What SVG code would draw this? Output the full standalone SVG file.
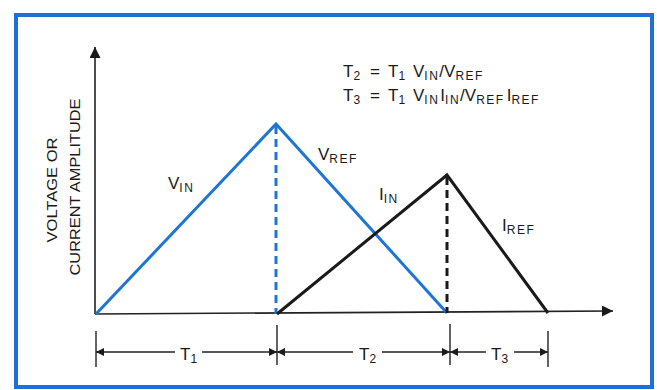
<svg xmlns="http://www.w3.org/2000/svg" width="657" height="390" viewBox="0 0 657 390">
<defs>
<style>
.t{font-family:"Liberation Sans",Arial,sans-serif;fill:#1a1a1a}
.lab{font-size:17px}
.sub{font-size:12px;letter-spacing:1.5px}
.ax{font-size:15px}
.blue{stroke:#1f74d8;stroke-width:3;fill:none;stroke-linejoin:miter}
.blk{stroke:#1a1a1a;stroke-width:3;fill:none;stroke-linejoin:miter}
.axis{stroke:#222;stroke-width:1.6;fill:none}
.dim{stroke:#222;stroke-width:1.4;fill:none}
</style>
<marker id="ah" viewBox="0 0 10 10" refX="10" refY="5" markerWidth="10" markerHeight="8" markerUnits="userSpaceOnUse" orient="auto"><path d="M0,0 L10,5 L0,10 z" fill="#1a1a1a"/></marker>
<marker id="ahBig" viewBox="0 0 10 10" refX="10" refY="5" markerWidth="16" markerHeight="11" markerUnits="userSpaceOnUse" orient="auto"><path d="M0,0 L10,5 L0,10 z" fill="#1a1a1a"/></marker>
</defs>
<rect x="0" y="0" width="657" height="390" fill="#ffffff"/>
<rect id="frame" x="16" y="15" width="636" height="372" fill="#ffffff" stroke="#1f6fd6" stroke-width="4"/>

<g id="connectors">
<line class="axis" x1="95" y1="314" x2="95" y2="47" marker-end="url(#ahBig)"/>
<line class="axis" x1="95" y1="314" x2="613" y2="311" marker-end="url(#ahBig)"/>
<polyline id="vin-vref" class="blue" points="96,314 276,124 447,313"/>
<line class="blue" x1="276" y1="126" x2="276" y2="314" stroke-width="2" stroke-dasharray="8,5"/>
<polyline id="iin-iref" class="blk" points="277,314 447,175 548,313"/>
<line class="blk" x1="447" y1="177" x2="447" y2="313" stroke-width="2" stroke-dasharray="8,5"/>
<g id="dimensions">
<line class="dim" x1="96" y1="331" x2="96" y2="367"/>
<line class="dim" x1="277" y1="325" x2="277" y2="365"/>
<line class="dim" x1="450" y1="324" x2="450" y2="365"/>
<line class="dim" x1="548" y1="331" x2="548" y2="367"/>
<line class="dim" x1="175" y1="352" x2="96" y2="352" marker-end="url(#ah)"/>
<line class="dim" x1="202" y1="352" x2="277" y2="352" marker-end="url(#ah)"/>
<line class="dim" x1="353" y1="352" x2="277" y2="352" marker-end="url(#ah)"/>
<line class="dim" x1="382" y1="352" x2="450" y2="352" marker-end="url(#ah)"/>
<line class="dim" x1="486" y1="352" x2="450" y2="352" marker-end="url(#ah)"/>
<line class="dim" x1="514" y1="352" x2="548" y2="352" marker-end="url(#ah)"/>
</g>
</g>

<g id="y-label">
<text class="t ax" transform="translate(57,190) rotate(-90)" text-anchor="middle" textLength="105" lengthAdjust="spacingAndGlyphs">VOLTAGE OR</text>
<text class="t ax" transform="translate(80,187) rotate(-90)" text-anchor="middle" textLength="177" lengthAdjust="spacingAndGlyphs">CURRENT AMPLITUDE</text>
</g>

<g id="equations">
<text class="t lab" y="77"><tspan x="343">T</tspan><tspan class="sub" dy="3">2</tspan><tspan x="370" dy="-3">=</tspan><tspan x="388">T</tspan><tspan class="sub" dy="3">1</tspan><tspan x="413" dy="-3">V</tspan><tspan class="sub" dy="3">IN</tspan><tspan dy="-3">/V</tspan><tspan class="sub" dy="3">REF</tspan></text>
<text class="t lab" y="101"><tspan x="343">T</tspan><tspan class="sub" dy="3">3</tspan><tspan x="370" dy="-3">=</tspan><tspan x="388">T</tspan><tspan class="sub" dy="3">1</tspan><tspan x="413" dy="-3">V</tspan><tspan class="sub" dy="3">IN</tspan><tspan dx="1" dy="-3">I</tspan><tspan class="sub" dy="3">IN</tspan><tspan dy="-3">/V</tspan><tspan class="sub" dy="3">REF</tspan><tspan dx="2" dy="-3">I</tspan><tspan class="sub" dy="3">REF</tspan></text>
</g>

<g id="label-vin"><text class="t lab" x="168" y="189">V<tspan class="sub" dy="3">IN</tspan></text></g>
<g id="label-vref"><text class="t lab" x="318" y="160">V<tspan class="sub" dy="3">REF</tspan></text></g>
<g id="label-iin"><text class="t lab" x="379" y="200">I<tspan class="sub" dy="3">IN</tspan></text></g>
<g id="label-iref"><text class="t lab" x="502" y="231">I<tspan class="sub" dy="3">REF</tspan></text></g>

<g id="label-t1"><text class="t lab" x="180" y="360">T<tspan class="sub" dy="3">1</tspan></text></g>
<g id="label-t2"><text class="t lab" x="359" y="360">T<tspan class="sub" dy="3">2</tspan></text></g>
<g id="label-t3"><text class="t lab" x="491" y="360">T<tspan class="sub" dy="3">3</tspan></text></g>
</svg>
